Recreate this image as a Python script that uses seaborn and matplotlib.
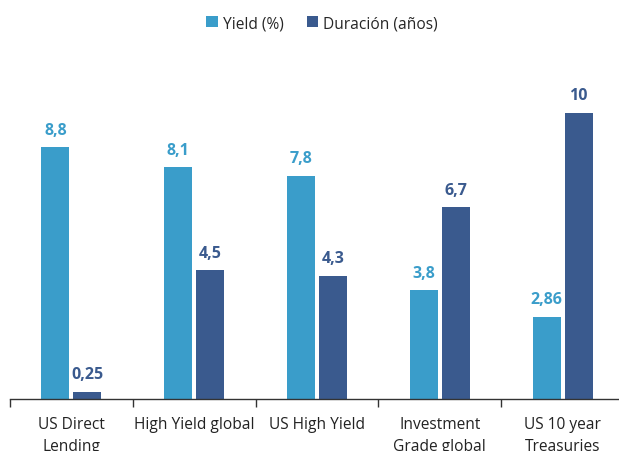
import pandas as pd
import matplotlib.pyplot as plt
import seaborn as sns
from matplotlib.ticker import FixedLocator

categorias = ['US Direct\nLending', 'High Yield global', 'US High Yield',
              'Investment\nGrade global', 'US 10 year\nTreasuries']
yield_pct = [8.8, 8.1, 7.8, 3.8, 2.86]
duracion = [0.25, 4.5, 4.3, 6.7, 10]
etiquetas_yield = ['8,8', '8,1', '7,8', '3,8', '2,86']
etiquetas_dur = ['0,25', '4,5', '4,3', '6,7', '10']
series = ['Yield (%)', 'Duración (años)']
colores = ['#3A9DCA', '#3A5A8E']

df = pd.DataFrame({
    'Categoria': categorias * 2,
    'Serie': [series[0]] * 5 + [series[1]] * 5,
    'Valor': yield_pct + duracion,
})

sns.set_theme(style='white')
plt.rcParams['font.family'] = ['Open Sans', 'DejaVu Sans']

fig = plt.figure(figsize=(6.19, 4.52), dpi=100)
ax = fig.add_axes([10 / 619, 1 - 400 / 452, 614 / 619, 340 / 452])

sns.barplot(data=df, x='Categoria', y='Valor', hue='Serie', palette=colores,
            width=0.52, gap=0.12, saturation=1, linewidth=0, ax=ax, legend=True)

# etiquetas sobre las barras
for cont, labels, col in zip(ax.containers, [etiquetas_yield, etiquetas_dur], colores):
    ax.bar_label(cont, labels=labels, padding=7, color=col, fontweight='bold',
                 fontsize=11.5)

ax.set_xlim(-0.5, 4.5)
ax.set_ylim(0, 10 * 340 / 286)
ax.set_xlabel('')
ax.set_ylabel('')
ax.set_yticks([])
for s in ['top', 'right', 'left']:
    ax.spines[s].set_visible(False)
ax.spines['bottom'].set_color('#333333')
ax.spines['bottom'].set_linewidth(1.0)

# el texto de la segunda línea queda cortado por el borde, como en el original
ax.tick_params(axis='x', which='major', length=0, pad=12, labelsize=11.2,
               labelcolor='#222222')
ax.xaxis.set_minor_locator(FixedLocator([-0.5 + i for i in range(6)]))
ax.tick_params(axis='x', which='minor', bottom=True, length=6, width=1,
               color='#333333', direction='out')
for t in ax.get_xticklabels():
    t.set_linespacing(1.55)
    t.set_va('top')

leg = ax.legend(loc='upper center', bbox_to_anchor=(312 / 614, 1 + 58 / 340),
                ncol=2, frameon=False, fontsize=11.2, handlelength=0.75,
                handleheight=0.75, handletextpad=0.3, columnspacing=1.5)

fig.savefig('out.png', dpi=100)
